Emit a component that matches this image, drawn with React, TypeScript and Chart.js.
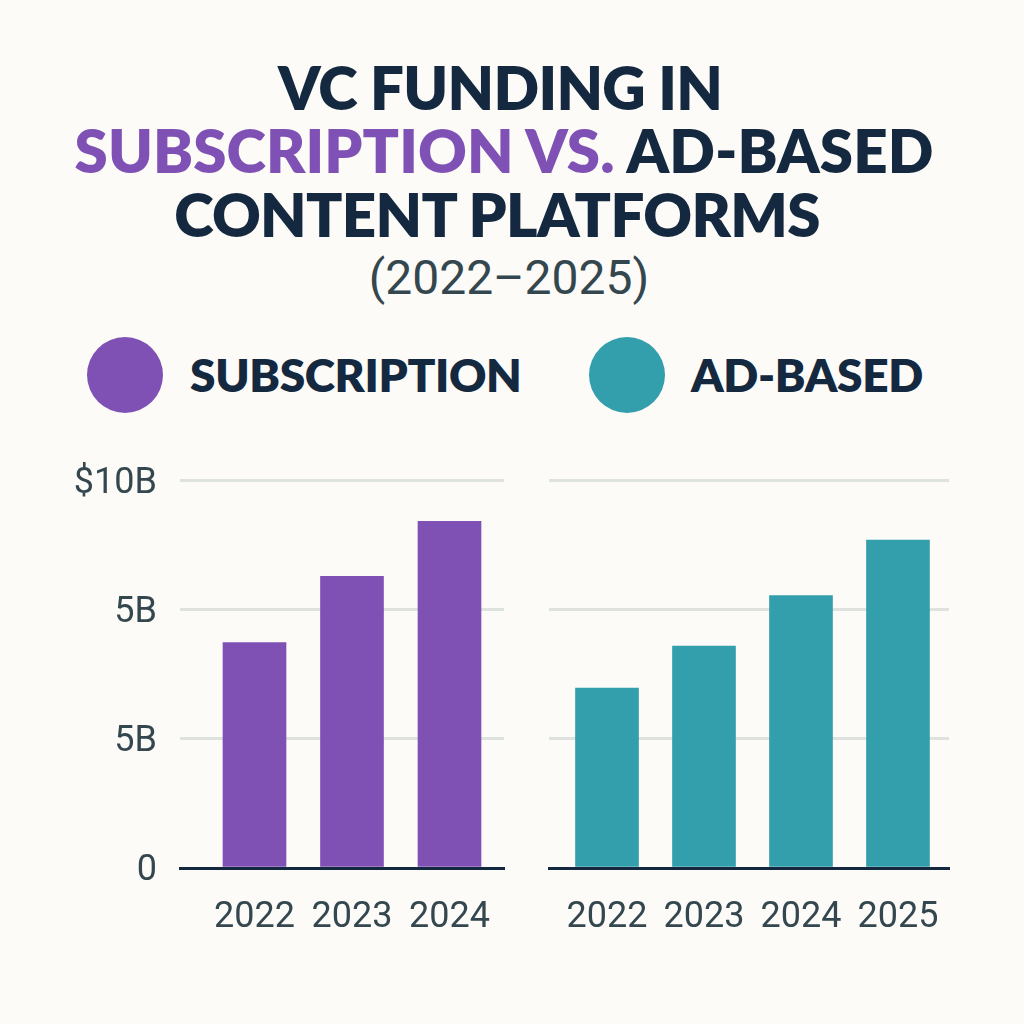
import React, { useEffect, useRef } from "react";
import { Chart, registerables } from "chart.js";

Chart.register(...registerables);

const subscriptionYears = [2022, 2023, 2024];
const subscriptionValues = [5.82, 7.53, 8.95];
const adBasedYears = [2022, 2023, 2024, 2025];
const adBasedValues = [4.64, 5.72, 7.02, 8.45];
const yTickValues = [0, 10 / 3, 20 / 3, 10];
const yTickLabels = ["0", "5B", "5B", "$10B"];

const PURPLE = "#7f51b5";
const TEAL = "#339eac";
const NAVY = "#14293f";
const SLATE = "#34474f";
const GRID = "#dfe3df";
const PAPER = "#fcfbf8";

interface PanelProps {
    left: number;
    top: number;
    width: number;
    height: number;
    axisWidth: number;
    xMin: number;
    xMax: number;
    years: number[];
    values: number[];
    color: string;
    label: string;
    showYLabels: boolean;
}

const BarPanel: React.FC<PanelProps> = ({ left, top, width, height, axisWidth, xMin, xMax, years, values, color, label, showYLabels }) => {
    const canvasRef = useRef<HTMLCanvasElement | null>(null);

    useEffect(() => {
        if (!canvasRef.current) return;
        const chart = new Chart(canvasRef.current, {
            type: "bar",
            data: {
                datasets: [
                    {
                        label,
                        data: years.map((year, i) => ({ x: year, y: values[i] })),
                        backgroundColor: color,
                        barThickness: 63,
                    },
                ],
            },
            options: {
                animation: false,
                responsive: false,
                layout: { autoPadding: false, padding: { top: 20, right: 20, bottom: 0, left: 0 } },
                plugins: { legend: { display: false }, tooltip: { enabled: false } },
                scales: {
                    x: {
                        type: "linear",
                        offset: false,
                        min: xMin,
                        max: xMax,
                        afterBuildTicks: (axis) => {
                            axis.ticks = years.map((value) => ({ value }));
                        },
                        afterFit: (axis) => {
                            axis.height = 92;
                        },
                        grid: { display: false, offset: false },
                        border: { display: true, color: NAVY, width: 3, z: 1 },
                        ticks: {
                            autoSkip: false,
                            maxRotation: 0,
                            padding: 20,
                            color: SLATE,
                            font: { family: "Roboto", size: 36 },
                            callback: (value) => String(value),
                        },
                    },
                    y: {
                        min: 0,
                        max: 10,
                        afterBuildTicks: (axis) => {
                            axis.ticks = yTickValues.map((value) => ({ value }));
                        },
                        afterFit: (axis) => {
                            axis.width = axisWidth;
                        },
                        grid: {
                            lineWidth: 3,
                            drawTicks: false,
                            color: (ctx) => (ctx.tick && ctx.tick.value === 0 ? "transparent" : GRID),
                        },
                        border: { display: false },
                        ticks: {
                            display: showYLabels,
                            padding: 23,
                            labelOffset: 3,
                            color: SLATE,
                            font: { family: "Roboto", size: 36 },
                            callback: (value) => yTickLabels[yTickValues.indexOf(Number(value))],
                        },
                    },
                },
            },
        });
        return () => chart.destroy();
    }, []);

    return (
        <canvas
            ref={canvasRef}
            width={width}
            height={height}
            style={{ position: "absolute", left, top, width, height }}
        />
    );
};

const titleLine = (top: number, shift: number, spacing: number): React.CSSProperties => ({
    position: "absolute",
    left: shift,
    top,
    width: 1024,
    textAlign: "center",
    whiteSpace: "nowrap",
    fontFamily: "Lato",
    fontWeight: 800,
    fontSize: 60,
    lineHeight: "64px",
    letterSpacing: spacing,
    color: NAVY,
});

const legendText = (left: number): React.CSSProperties => ({
    position: "absolute",
    left,
    top: 350,
    whiteSpace: "nowrap",
    fontFamily: "Lato",
    fontWeight: 800,
    fontSize: 46,
    lineHeight: "50px",
    letterSpacing: -0.35,
    color: NAVY,
});

const legendDot = (left: number, background: string): React.CSSProperties => ({
    position: "absolute",
    left,
    top: 337,
    width: 76,
    height: 76,
    borderRadius: "50%",
    background,
});

export default function App() {
    useEffect(() => {
        document.body.style.margin = "0";
        document.body.style.background = PAPER;
    }, []);

    return (
        <div style={{ position: "absolute", left: 0, top: 0, width: 1024, height: 1024, overflow: "hidden", background: PAPER }}>
            <div style={titleLine(55, -12, -0.7)}>VC FUNDING IN</div>
            <div style={titleLine(118, -8, 0.1)}>
                <span style={{ color: PURPLE }}>SUBSCRIPTION VS.</span> AD-BASED
            </div>
            <div style={titleLine(182, -15, -0.7)}>CONTENT PLATFORMS</div>
            <div
                style={{
                    ...titleLine(250, -3, 0),
                    fontFamily: "Roboto",
                    fontWeight: 400,
                    fontSize: 48,
                    lineHeight: "56px",
                    color: SLATE,
                }}
            >
                (2022–2025)
            </div>

            <div style={legendDot(87, PURPLE)} />
            <div style={legendText(190)}>SUBSCRIPTION</div>
            <div style={legendDot(589, TEAL)} />
            <div style={legendText(691)}>AD-BASED</div>

            <BarPanel
                left={0}
                top={436}
                width={524}
                height={524}
                axisWidth={180}
                xMin={2021.236}
                xMax={2024.559}
                years={subscriptionYears}
                values={subscriptionValues}
                color={PURPLE}
                label="Subscription"
                showYLabels={true}
            />
            <BarPanel
                left={529}
                top={460}
                width={440}
                height={500}
                axisWidth={20}
                xMin={2021.402}
                xMax={2025.526}
                years={adBasedYears}
                values={adBasedValues}
                color={TEAL}
                label="Ad-based"
                showYLabels={false}
            />
        </div>
    );
}
